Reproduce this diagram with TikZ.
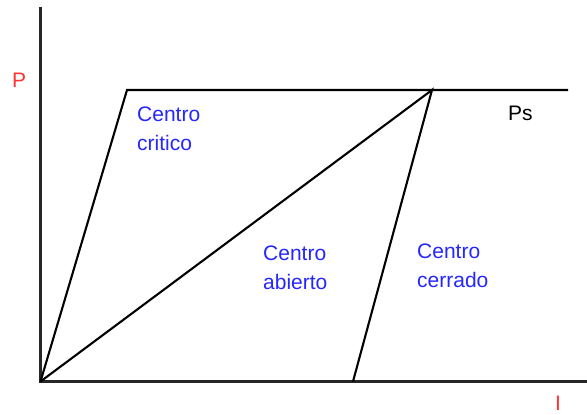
\documentclass[tikz,border=0pt]{standalone}
\usepackage{fontspec}
\setmainfont{Liberation Sans}
\begin{document}
\begin{tikzpicture}[x=1pt,y=-1pt,
    axis/.style={line width=2.3pt,black!85},
    zone/.style={line width=2.1pt,black,line join=miter},
    zonelbl/.style={anchor=north west,inner sep=0pt,align=left,text=blue!85!white,font=\fontsize{21}{29}\selectfont},
    axlbl/.style={anchor=base west,inner sep=0pt,text=red!80!white,font=\fontsize{21}{29}\selectfont}]
  \useasboundingbox (0,0) rectangle (587,415);
  \coordinate (O) at (40.5,381.5); \coordinate (Ytop) at (40.5,7);
  \coordinate (Xend) at (587,381.5);
  \coordinate (A) at (127,90); \coordinate (B) at (432,90);
  \coordinate (C) at (353,381.5); \coordinate (E) at (568,90);
  \draw[axis] (Ytop) -- (O) -- (Xend);
  \draw[zone] (O) -- (A) -- (E); \draw[zone] (O) -- (B) -- (C);
  \node[axlbl] (P) at (12,87) {P}; \node[axlbl] (I) at (555,410) {I};
  \node[anchor=base west,inner sep=0pt,font=\fontsize{21}{29}\selectfont] (Ps) at (508,120) {Ps};
  \node[zonelbl] (crit) at (137,107) {Centro\\critico};
  \node[zonelbl] (abie) at (263,246) {Centro\\abierto};
  \node[zonelbl] (cerr) at (417,244) {Centro\\cerrado};
\end{tikzpicture}
\end{document}
